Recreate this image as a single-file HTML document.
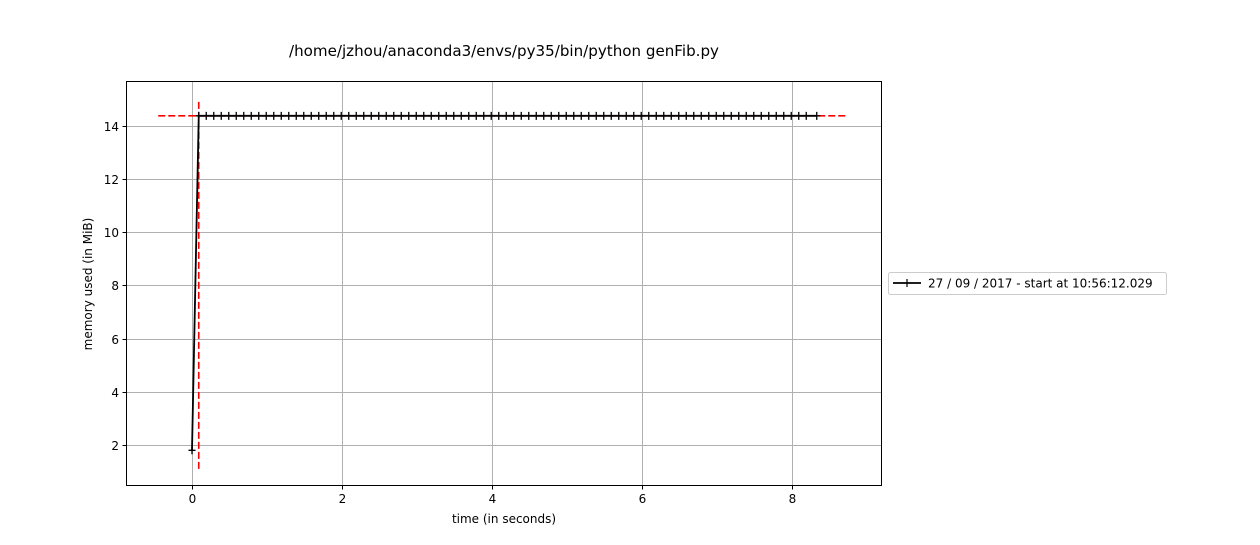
<!DOCTYPE html>
<html><head><meta charset="utf-8"><style>
body{margin:0;background:#fff;font-family:"Liberation Sans","DejaVu Sans",sans-serif}
svg text{font-family:"DejaVu Sans","Liberation Sans",sans-serif;fill:#000}
</style></head><body>
<svg id="chart" width="1260" height="540" viewBox="0 0 1260 540" xmlns="http://www.w3.org/2000/svg">
<rect width="1260" height="540" fill="#fff"/>
<text x="504" y="56" text-anchor="middle" font-size="15" textLength="430" lengthAdjust="spacingAndGlyphs">/home/jzhou/anaconda3/envs/py35/bin/python genFib.py</text>
<g id="grid"></g>
<g id="marks"></g>
<rect x="126.5" y="81.5" width="755" height="404" fill="none" stroke="#000" stroke-width="1"/>
<g id="ticks"></g>
<text x="504" y="523" text-anchor="middle" font-size="12">time (in seconds)</text>
<text transform="translate(92,284) rotate(-90)" text-anchor="middle" font-size="12">memory used (in MiB)</text>
<g>
<rect x="888.5" y="272.5" width="278" height="22" fill="#fff" stroke="#ccc" rx="2"/>
<line x1="893" y1="283" x2="921" y2="283" stroke="#000" stroke-width="1.8"/>
<line x1="907" y1="279" x2="907" y2="287" stroke="#000" stroke-width="1.2"/>
<text x="928" y="287.5" font-size="12">27 / 09 / 2017 - start at 10:56:12.029</text>
</g>
</svg>
<script>
const times=[0,0.09,0.19,0.29,0.39,0.49,0.59,0.69,0.79,0.89,0.99,1.09,1.19,1.29,1.39,1.49,1.59,1.69,1.79,1.89,1.99,2.09,2.19,2.29,2.39,2.49,2.59,2.69,2.79,2.89,2.99,3.09,3.19,3.29,3.39,3.49,3.59,3.69,3.79,3.89,3.99,4.09,4.19,4.29,4.39,4.49,4.59,4.69,4.79,4.89,4.99,5.09,5.19,5.29,5.39,5.49,5.59,5.69,5.79,5.89,5.99,6.09,6.19,6.29,6.39,6.49,6.59,6.69,6.79,6.89,6.99,7.09,7.19,7.29,7.39,7.49,7.59,7.69,7.79,7.89,7.99,8.09,8.19,8.33];
const memory=[1.8,14.38,14.38,14.38,14.38,14.38,14.38,14.38,14.38,14.38,14.38,14.38,14.38,14.38,14.38,14.38,14.38,14.38,14.38,14.38,14.38,14.38,14.38,14.38,14.38,14.38,14.38,14.38,14.38,14.38,14.38,14.38,14.38,14.38,14.38,14.38,14.38,14.38,14.38,14.38,14.38,14.38,14.38,14.38,14.38,14.38,14.38,14.38,14.38,14.38,14.38,14.38,14.38,14.38,14.38,14.38,14.38,14.38,14.38,14.38,14.38,14.38,14.38,14.38,14.38,14.38,14.38,14.38,14.38,14.38,14.38,14.38,14.38,14.38,14.38,14.38,14.38,14.38,14.38,14.38,14.38,14.38,14.38,14.38];
const xTicks=[0,2,4,6,8];
const yTicks=[2,4,6,8,10,12,14];
const peakMem=14.38, peakTime=0.09;
const hLineRange=[-0.45,8.75], vLineRange=[1.1,15.0];
const NS="http://www.w3.org/2000/svg";
const X0=126,X1=882,Y0=486,Y1=81,xmin=-0.88,xmax=9.2,ymin=0.457,ymax=15.69;
const sx=v=>X0+(v-xmin)/(xmax-xmin)*(X1-X0);
const sy=v=>Y0-(v-ymin)/(ymax-ymin)*(Y0-Y1);
function mk(tag,at,parent){const e=document.createElementNS(NS,tag);for(const k in at)e.setAttribute(k,at[k]);parent.appendChild(e);return e;}
const grid=document.getElementById('grid'),ticks=document.getElementById('ticks'),marks=document.getElementById('marks');
xTicks.forEach(t=>{const x=Math.round(sx(t))+0.5;
const g=mk('line',{x1:x,x2:x,y1:Y1,y2:Y0,stroke:'#b0b0b0','stroke-width':1},grid);

mk('line',{x1:x,x2:x,y1:Y0,y2:Y0+3.5,stroke:'#000'},ticks);
const tx=mk('text',{x:x,y:Y0+17,'text-anchor':'middle','font-size':12},ticks);tx.textContent=t;
});
yTicks.forEach(t=>{const y=Math.round(sy(t))+0.5;
const g=mk('line',{x1:X0,x2:X1,y1:y,y2:y,stroke:'#b0b0b0','stroke-width':1},grid);

mk('line',{x1:X0-3.5,x2:X0,y1:y,y2:y,stroke:'#000'},ticks);
const tx=mk('text',{x:X0-7,y:y+4.5,'text-anchor':'end','font-size':12},ticks);tx.textContent=t;
});
const hl=mk('line',{x1:sx(hLineRange[0]),x2:sx(hLineRange[1]),y1:sy(peakMem),y2:sy(peakMem),stroke:'#f00','stroke-width':1.6,'stroke-dasharray':'7,3'},marks);

const vl=mk('line',{x1:sx(peakTime),x2:sx(peakTime),y1:sy(vLineRange[0]),y2:sy(vLineRange[1]),stroke:'#f00','stroke-width':1.6,'stroke-dasharray':'7,3'},marks);

const pl=mk('polyline',{points:times.map((t,i)=>sx(t)+','+sy(memory[i])).join(' '),fill:'none',stroke:'#000','stroke-width':1.8},marks);

times.forEach((t,i)=>{const x=sx(t),y=sy(memory[i]);
const m=mk('path',{d:`M${x-3.5},${y}H${x+3.5}M${x},${y-4}V${y+4}`,stroke:'#000','stroke-width':1.3},marks);
});
</script>
</body></html>
